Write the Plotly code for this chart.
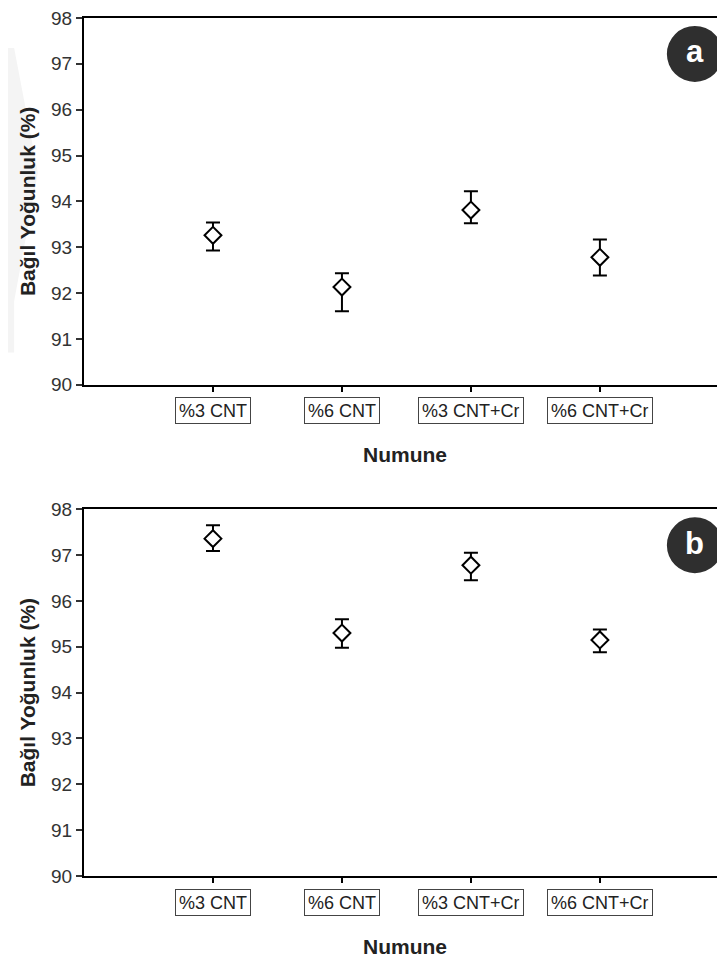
import plotly.graph_objects as go
from plotly.subplots import make_subplots

samples = ["%3 CNT", "%6 CNT", "%3 CNT+Cr", "%6 CNT+Cr"]

density_a = [93.26, 92.13, 93.81, 92.78]
err_up_a = [0.28, 0.30, 0.41, 0.39]
err_down_a = [0.33, 0.53, 0.29, 0.40]

density_b = [97.36, 95.30, 96.78, 95.15]
err_up_b = [0.29, 0.30, 0.27, 0.23]
err_down_b = [0.27, 0.32, 0.33, 0.27]

y_ticks = [90, 91, 92, 93, 94, 95, 96, 97, 98]
panel_letters = ["a", "b"]

FONT = "Arial, Liberation Sans, sans-serif"

fig = make_subplots(rows=2, cols=1, vertical_spacing=0.145)

for row, (vals, up, down) in enumerate(
    [(density_a, err_up_a, err_down_a), (density_b, err_up_b, err_down_b)], start=1
):
    fig.add_trace(
        go.Scatter(
            x=samples,
            y=vals,
            mode="markers",
            marker=dict(symbol="diamond", size=13, color="white",
                        line=dict(color="black", width=2)),
            error_y=dict(type="data", symmetric=False, array=up, arrayminus=down,
                         color="black", thickness=2, width=7),
            showlegend=False,
        ),
        row=row, col=1,
    )

fig.update_xaxes(
    type="category",
    range=[-1, 3.97],
    showticklabels=False,
    ticks="outside",
    ticklen=5,
    tickwidth=1.5,
    tickcolor="black",
    showline=True,
    linecolor="black",
    linewidth=2,
    mirror=True,
    showgrid=False,
    zeroline=False,
)
fig.update_yaxes(
    range=[90, 98],
    tickvals=y_ticks,
    ticks="outside",
    ticklen=6,
    tickwidth=1.5,
    tickcolor="#333",
    tickfont=dict(family=FONT, size=19, color="#333"),
    ticklabeloverflow="allow",
    showline=True,
    linecolor="black",
    linewidth=2,
    showgrid=False,
    zeroline=False,
    title=dict(text="<b>Bağıl Yoğunluk (%)</b>",
               font=dict(family=FONT, size=21, color="#222"), standoff=10),
)
fig.update_layout(yaxis=dict(domain=[0.5726, 1]), yaxis2=dict(domain=[0, 0.4274]))

annotations = []
shapes = []
for i, (xa, ya) in enumerate([("x", "y"), ("x2", "y2")]):
    for s in samples:
        annotations.append(dict(
            x=s, xref=xa, y=0, yref=f"{ya} domain",
            yshift=-26, yanchor="middle", xanchor="center",
            text=s, showarrow=False,
            font=dict(family=FONT, size=18, color="#222"),
            bordercolor="#444", borderwidth=1, borderpad=3,
            height=19, bgcolor="white",
        ))
    annotations.append(dict(
        x=0.5, xref=f"{xa} domain", y=0, yref=f"{ya} domain",
        yshift=-70, yanchor="middle", xanchor="center",
        text="<b>Numune</b>", showarrow=False,
        font=dict(family=FONT, size=21, color="#222"),
    ))
    shapes.append(dict(
        type="circle", xref=f"{xa} domain", yref=f"{ya} domain",
        xsizemode="pixel", ysizemode="pixel",
        xanchor=0.953, yanchor=0.902,
        x0=-28, x1=28, y0=-28, y1=28,
        fillcolor="#2f2f2f", line=dict(width=0),
    ))
    annotations.append(dict(
        x=0.953, xref=f"{xa} domain", y=0.902, yref=f"{ya} domain",
        text=f"<b>{panel_letters[i]}</b>", showarrow=False,
        xanchor="center", yanchor="middle", yshift=2,
        font=dict(family=FONT, size=31, color="white"),
    ))

# faint watermark stripe on the far left
shapes.append(dict(
    type="path", xref="paper", yref="paper", layer="below",
    path="M -0.131 0.965 L -0.109 0.965 L -0.072 0.82 L -0.109 0.67 L -0.109 0.61 L -0.131 0.61 Z",
    fillcolor="#f4f4f4", line=dict(width=0),
))

fig.update_layout(
    width=717,
    height=952,
    margin=dict(l=76, r=0, t=7, b=84),
    plot_bgcolor="white",
    paper_bgcolor="white",
    annotations=annotations,
    shapes=shapes,
)

fig.write_html("out.html")
